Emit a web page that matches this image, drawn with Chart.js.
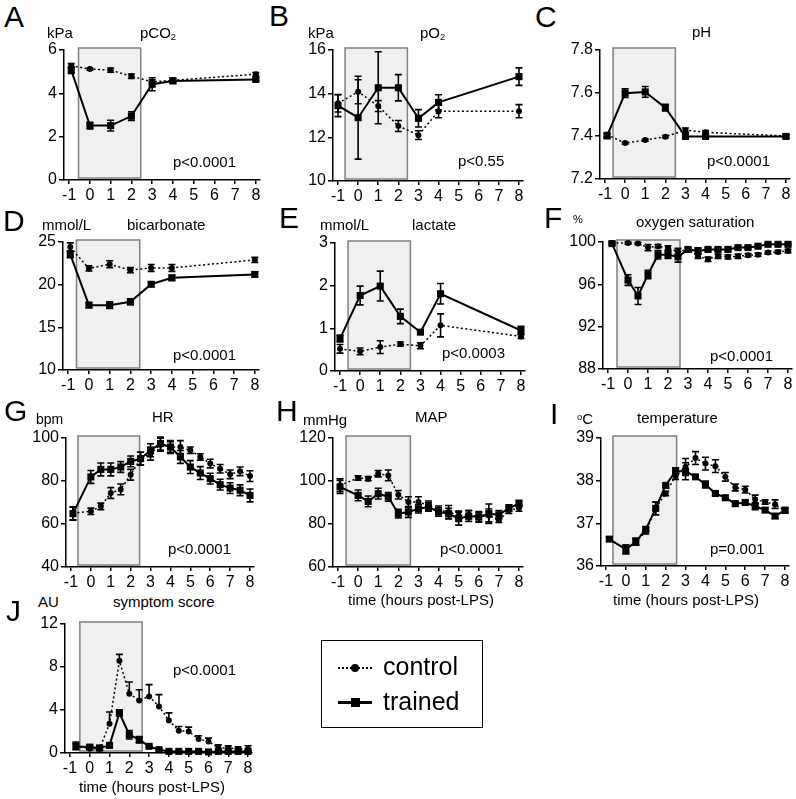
<!DOCTYPE html>
<html>
<head>
<meta charset="utf-8">
<script src="https://cdn.jsdelivr.net/npm/chart.js@4.4.1/dist/chart.umd.min.js"></script>
<style>
  body { margin: 0; background: #fff; width: 796px; height: 799px; position: relative; overflow: hidden;
         font-family: "Liberation Sans", Arial, sans-serif; color: #000; }
  canvas { position: absolute; }
  .t { position: absolute; white-space: nowrap; line-height: 1; }
  .t sub { font-size: 0.62em; vertical-align: -0.25em; line-height: 0; }
  .t sup { font-size: 0.62em; vertical-align: 0.45em; line-height: 0; }
  #legend { position: absolute; left: 321px; top: 640px; width: 162px; height: 88px;
            border: 1.5px solid #000; box-sizing: border-box; }
  .ln { position: absolute; }
</style>
</head>
<body>
<div id="legend"></div>
<script>
// x positions (hours post-LPS)
const gasHoursA = [-0.9, 0, 1, 2, 3, 4, 8];
const gasHoursB = [-1, 0, 1, 2, 3, 4, 8];
const satHours = [-0.8, 0, 0.5, 1, 1.5, 2, 2.5, 3, 3.5, 4, 4.5, 5, 5.5, 6, 6.5, 7, 7.5, 8];
const vitalHours = [-0.9, 0, 0.5, 1, 1.5, 2, 2.5, 3, 3.5, 4, 4.5, 5, 5.5, 6, 6.5, 7, 7.5, 8];
const tempHours = [-0.83, 0, 0.5, 1, 1.5, 2, 2.5, 3, 3.5, 4, 4.5, 5, 5.5, 6, 6.5, 7, 7.5, 8];
const scoreHours = [-0.7, 0, 0.5, 1, 1.5, 2, 2.5, 3, 3.5, 4, 4.5, 5, 5.5, 6, 6.5, 7, 7.5, 8];
const xTicks = [-1, 0, 1, 2, 3, 4, 5, 6, 7, 8];

// A pCO2 (kPa)
const pco2Control = [5.27, 5.12, 5.07, 4.79, 4.53, 4.6, 4.88];
const pco2ControlErr = [0.1, 0.05, 0.1, 0.1, 0.1, 0.1, 0.08];
const pco2Trained = [5.07, 2.51, 2.51, 2.95, 4.42, 4.57, 4.64];
const pco2TrainedErr = [0.15, 0.15, 0.25, 0.2, 0.3, 0.1, 0.08];
const pco2Ticks = [0, 2, 4, 6];

// B pO2 (kPa)
const po2Control = [13.56, 14.09, 13.43, 12.52, 12.1, 13.2, 13.2];
const po2ControlErr = [0.4, 0.55, 0.25, 0.25, 0.2, 0.3, 0.3];
const po2Trained = [13.45, 12.9, 14.27, 14.27, 12.87, 13.6, 14.78];
const po2TrainedErr = [0.5, 1.9, 1.65, 0.6, 0.4, 0.35, 0.4];
const po2Ticks = [10, 12, 14, 16];

// C pH
const phControl = [7.406, 7.367, 7.381, 7.397, 7.427, 7.417, 7.4];
const phControlErr = [0.01, 0.005, 0.005, 0.005, 0.01, 0.008, 0.008];
const phTrained = [7.4, 7.599, 7.605, 7.532, 7.398, 7.398, 7.398];
const phTrainedErr = [0.01, 0.02, 0.025, 0.015, 0.01, 0.008, 0.008];
const phTicks = [7.2, 7.4, 7.6, 7.8];

// D bicarbonate (mmol/L)
const bicControl = [24.4, 21.9, 22.4, 21.7, 21.96, 21.96, 22.9];
const bicControlErr = [0.5, 0.3, 0.4, 0.3, 0.4, 0.4, 0.3];
const bicTrained = [23.56, 17.6, 17.6, 17.99, 20.05, 20.8, 21.2];
const bicTrainedErr = [0.4, 0.3, 0.4, 0.35, 0.3, 0.3, 0.3];
const bicTicks = [10, 15, 20, 25];

// E lactate (mmol/L)
const lacControl = [0.52, 0.46, 0.56, 0.63, 0.59, 1.07, 0.81];
const lacControlErr = [0.1, 0.08, 0.15, 0.05, 0.07, 0.27, 0.05];
const lacTrained = [0.76, 1.77, 1.99, 1.28, 0.91, 1.81, 0.95];
const lacTrainedErr = [0.08, 0.22, 0.35, 0.17, 0.05, 0.24, 0.1];
const lacTicks = [0, 1, 2, 3];

// F oxygen saturation (%)
const satControl = [99.9, 99.9, 99.85, 99.47, 99.6, 99.44, 99.1, 99.3, 98.65, 98.37, 98.65, 98.6, 98.65, 98.75, 98.8, 99.0, 99.06, 99.15];
const satControlErr = [0.1, 0.1, 0.1, 0.3, 0.15, 0.2, 0.3, 0.15, 0.2, 0.2, 0.2, 0.2, 0.2, 0.15, 0.15, 0.15, 0.15, 0.15];
const satTrained = [99.85, 96.4, 94.9, 96.93, 98.8, 98.8, 98.6, 99.3, 99.15, 99.3, 99.3, 99.3, 99.47, 99.47, 99.6, 99.78, 99.78, 99.78];
const satTrainedErr = [0.15, 0.5, 0.8, 0.4, 0.4, 0.35, 0.5, 0.15, 0.3, 0.15, 0.15, 0.2, 0.15, 0.15, 0.15, 0.1, 0.1, 0.1];
const satTicks = [88, 92, 96, 100];

// G heart rate (bpm)
const hrControl = [65, 65.9, 68.2, 74.4, 76.1, 82.9, 90.4, 92.7, 96.9, 95.8, 95.8, 94.3, 91.2, 88.1, 85.7, 83.1, 84.5, 82.3];
const hrControlErr = [3, 1.5, 1.5, 2.5, 2.5, 2.5, 3, 3, 3, 3, 3, 1.5, 1.5, 2, 2, 2, 2, 2.5];
const hrTrained = [64.8, 81.9, 85.4, 85.4, 86.5, 89.1, 90.4, 94.3, 97.4, 95.8, 91.2, 86.5, 83.7, 81.1, 78.3, 76.7, 75.7, 73.3];
const hrTrainedErr = [3, 3, 3, 3, 2.5, 2.5, 3, 3, 3, 2.5, 3, 3, 3, 2.5, 2.5, 2.5, 2.5, 3];
const hrTicks = [40, 60, 80, 100];

// H mean arterial pressure (mmHg)
const mapControl = [98, 101.4, 101.1, 103.4, 102.6, 93.6, 90.2, 90.2, 88.7, 86.4, 85.6, 84, 84.3, 83.3, 84, 81.7, 86.4, 87.4];
const mapControlErr = [3, 1, 1, 1.5, 2.5, 2, 2.5, 2.5, 2, 2, 3, 2, 2, 2, 3, 1, 1.5, 1.5];
const mapTrained = [97.2, 93.3, 90.5, 94.1, 92.6, 84.8, 85.6, 87.1, 87.9, 85.6, 84.8, 82.5, 83.7, 83.3, 84.8, 84.3, 87.4, 89.5];
const mapTrainedErr = [3, 2.5, 2.5, 2.5, 2, 2, 2.5, 2, 2, 2, 2.5, 3, 2.5, 2.5, 4.5, 2, 1.5, 1.5];
const mapTicks = [60, 80, 100, 120];

// I temperature (°C)
const tempControl = [36.63, 36.39, 36.57, 36.8, 37.35, 37.7, 38.11, 38.32, 38.53, 38.4, 38.34, 38.09, 37.84, 37.79, 37.56, 37.5, 37.45, 37.29];
const tempControlErr = [0.05, 0.1, 0.08, 0.05, 0.15, 0.05, 0.08, 0.2, 0.15, 0.15, 0.15, 0.1, 0.08, 0.08, 0.1, 0.05, 0.1, 0.05];
const tempTrained = [36.63, 36.39, 36.57, 36.86, 37.35, 37.89, 38.22, 38.22, 38.09, 37.91, 37.7, 37.6, 37.46, 37.49, 37.4, 37.31, 37.17, 37.31];
const tempTrainedErr = [0.05, 0.1, 0.08, 0.05, 0.15, 0.05, 0.08, 0.2, 0.05, 0.08, 0.05, 0.05, 0.05, 0.05, 0.08, 0.05, 0.05, 0.05];
const tempTicks = [36, 37, 38, 39];

// J symptom score (AU)
const scoreControl = [0.62, 0.4, 0.4, 2.72, 8.57, 5.51, 4.89, 5.26, 4.33, 3.03, 2.07, 2.01, 1.3, 1.08, 0.46, 0.46, 0.37, 0.37];
const scoreControlErr = [0.4, 0.3, 0.3, 1.1, 0.6, 1.1, 1.0, 1.1, 1.1, 0.7, 0.4, 0.4, 0.3, 0.3, 0.3, 0.2, 0.2, 0.3];
const scoreTrained = [0.6, 0.55, 0.46, 0.71, 3.72, 1.7, 1.24, 0.62, 0.31, 0.15, 0.15, 0.15, 0.15, 0.1, 0.15, 0.15, 0.15, 0.15];
const scoreTrainedErr = [0.3, 0.2, 0.2, 0.2, 0.3, 0.4, 0.3, 0.1, 0.1, 0.05, 0.05, 0.05, 0.05, 0.05, 0.05, 0.05, 0.05, 0.05];
const scoreTicks = [0, 4, 8, 12];

const FONT = '"Liberation Sans", Arial, sans-serif';

// gray box marking the exercise period
const shadePlugin = {
  id: 'shade',
  beforeDatasetsDraw(chart, args, opts) {
    const { ctx, chartArea, scales } = chart;
    const x0 = scales.x.getPixelForValue(opts.from);
    const x1 = scales.x.getPixelForValue(opts.to);
    const top = chartArea.top - 2, bot = chartArea.bottom - 2;
    ctx.save();
    ctx.fillStyle = '#f0f0f0';
    ctx.fillRect(x0, top, x1 - x0, bot - top);
    ctx.strokeStyle = '#808080';
    ctx.lineWidth = 1.5;
    ctx.strokeRect(x0, top, x1 - x0, bot - top);
    ctx.restore();
  }
};

// SEM error bars, read from dataset.err
const errorBars = {
  id: 'errorBars',
  afterDatasetsDraw(chart) {
    const ctx = chart.ctx, y = chart.scales.y;
    ctx.save();
    ctx.strokeStyle = '#000';
    ctx.lineWidth = 1.6;
    chart.data.datasets.forEach((ds, di) => {
      const meta = chart.getDatasetMeta(di);
      meta.data.forEach((pt, i) => {
        const v = ds.data[i].y, e = ds.err[i];
        const top = y.getPixelForValue(v + e);
        const bot = ds.upOnly ? pt.y : y.getPixelForValue(v - e);
        ctx.beginPath();
        ctx.moveTo(pt.x, top); ctx.lineTo(pt.x, bot);
        ctx.moveTo(pt.x - 3.5, top); ctx.lineTo(pt.x + 3.5, top);
        if (!ds.upOnly) { ctx.moveTo(pt.x - 3.5, bot); ctx.lineTo(pt.x + 3.5, bot); }
        ctx.stroke();
      });
    });
    ctx.restore();
  }
};

function series(xs, ys) {
  return xs.map((x, i) => ({ x: x, y: ys[i] }));
}

function makePanel(p) {
  const YW = 45, XH = 26, PT = 12, PR = 14;
  const cl = p.box[0] - YW, ct = p.box[1] - PT;
  const cv = document.createElement('canvas');
  cv.width = p.box[2] - cl + PR;
  cv.height = p.box[3] - ct + XH;
  cv.style.left = cl + 'px';
  cv.style.top = ct + 'px';
  document.body.appendChild(cv);

  const axisGrid = { drawOnChartArea: false, drawTicks: true, tickLength: 4, color: '#000', lineWidth: 1.5 };
  new Chart(cv, {
    type: 'line',
    data: {
      datasets: [
        {
          label: 'control', data: series(p.x, p.ctl), err: p.ctlErr, upOnly: !!p.upOnly,
          borderColor: '#000', backgroundColor: '#000', borderWidth: 1.5, borderDash: [2, 2.5],
          pointStyle: 'circle', pointRadius: 3, pointBorderWidth: 0, tension: 0, clip: false
        },
        {
          label: 'trained', data: series(p.x, p.trn), err: p.trnErr,
          borderColor: '#000', backgroundColor: '#000', borderWidth: 2,
          pointStyle: 'rect', pointRadius: 5, pointBorderWidth: 0, tension: 0, clip: false
        }
      ]
    },
    options: {
      responsive: false,
      animation: false,
      devicePixelRatio: 1,
      layout: { padding: { left: 0, top: PT, right: PR, bottom: 0 } },
      plugins: {
        legend: { display: false },
        tooltip: { enabled: false },
        shade: { from: p.shade[0], to: p.shade[1] }
      },
      scales: {
        x: {
          type: 'linear', min: -1.25, max: 8.2,
          afterBuildTicks: s => { s.ticks = xTicks.map(v => ({ value: v })); },
          afterFit: s => { s.height = XH; },
          grid: axisGrid,
          border: { color: '#000', width: 1.5 },
          ticks: { color: '#000', font: { family: FONT, size: 16 }, padding: 2, maxRotation: 0, autoSkip: false,
                   callback: v => String(v) }
        },
        y: {
          type: 'linear', min: p.yTicks[0], max: p.yTicks[p.yTicks.length - 1],
          afterBuildTicks: s => { s.ticks = p.yTicks.map(v => ({ value: v })); },
          afterFit: s => { s.width = YW; },
          grid: Object.assign({}, axisGrid, { tickLength: 5 }),
          border: { color: '#000', width: 1.5 },
          ticks: { color: '#000', font: { family: FONT, size: 16 }, padding: 2, autoSkip: false,
                   callback: v => String(v) }
        }
      }
    },
    plugins: [shadePlugin, errorBars]
  });
}

const panels = [
  { box: [64, 50, 260, 180], x: gasHoursA, ctl: pco2Control, ctlErr: pco2ControlErr, trn: pco2Trained, trnErr: pco2TrainedErr, yTicks: pco2Ticks, shade: [-0.55, 2.45] },
  { box: [333, 50, 523, 181], x: gasHoursB, ctl: po2Control, ctlErr: po2ControlErr, trn: po2Trained, trnErr: po2TrainedErr, yTicks: po2Ticks, shade: [-0.65, 2.45] },
  { box: [600, 50, 790, 179], x: gasHoursA, ctl: phControl, ctlErr: phControlErr, trn: phTrained, trnErr: phTrainedErr, yTicks: phTicks, shade: [-0.6, 2.5] },
  { box: [63, 242, 259, 370], x: gasHoursA, ctl: bicControl, ctlErr: bicControlErr, trn: bicTrained, trnErr: bicTrainedErr, yTicks: bicTicks, shade: [-0.6, 2.45] },
  { box: [335, 243, 525, 371], x: gasHoursB, ctl: lacControl, ctlErr: lacControlErr, trn: lacTrained, trnErr: lacTrainedErr, yTicks: lacTicks, shade: [-0.6, 2.5] },
  { box: [603, 242, 792, 369], x: satHours, ctl: satControl, ctlErr: satControlErr, trn: satTrained, trnErr: satTrainedErr, yTicks: satTicks, shade: [-0.55, 2.6] },
  { box: [66, 438, 254, 567], x: vitalHours, ctl: hrControl, ctlErr: hrControlErr, trn: hrTrained, trnErr: hrTrainedErr, yTicks: hrTicks, shade: [-0.65, 2.45] },
  { box: [333, 438, 523, 567], x: vitalHours, ctl: mapControl, ctlErr: mapControlErr, trn: mapTrained, trnErr: mapTrainedErr, yTicks: mapTicks, shade: [-0.6, 2.6] },
  { box: [601, 438, 789, 566], x: tempHours, ctl: tempControl, ctlErr: tempControlErr, trn: tempTrained, trnErr: tempTrainedErr, yTicks: tempTicks, shade: [-0.65, 2.55] },
  { box: [65, 624, 252, 753], x: scoreHours, ctl: scoreControl, ctlErr: scoreControlErr, trn: scoreTrained, trnErr: scoreTrainedErr, yTicks: scoreTicks, shade: [-0.5, 2.65], upOnly: true }
];
panels.forEach(makePanel);

// text: [html, x, baseline, size, align]
const texts = [
  ['A', 4, 27, 30], ['B', 269, 26, 30], ['C', 535, 27, 30],
  ['D', 3, 231, 30], ['E', 279, 228, 30], ['F', 544, 228, 30],
  ['G', 4, 421, 30], ['H', 276, 421, 30], ['I', 550, 424, 30], ['J', 6, 621, 30],
  ['kPa', 47, 38, 15], ['pCO<sub>2</sub>', 140, 38, 15],
  ['kPa', 308, 38, 15], ['pO<sub>2</sub>', 420, 38, 15],
  ['pH', 692, 37, 15],
  ['mmol/L', 42, 230, 15], ['bicarbonate', 127, 230, 15],
  ['mmol/L', 320, 230, 15], ['lactate', 412, 230, 15],
  ['%', 573, 223, 11], ['oxygen saturation', 636, 227, 15],
  ['bpm', 36, 424, 14], ['HR', 152, 422, 15],
  ['mmHg', 303, 425, 15], ['MAP', 415, 422, 15],
  ['<sup>o</sup>C', 577, 424, 15], ['temperature', 637, 423, 15],
  ['AU', 38, 607, 15], ['symptom score', 113, 607, 15],
  ['p&lt;0.0001', 173, 167, 15], ['p&lt;0.55', 458, 166, 15], ['p&lt;0.0001', 707, 166, 15],
  ['p&lt;0.0001', 173, 360, 15], ['p&lt;0.0003', 442, 358, 15], ['p&lt;0.0001', 710, 361, 15],
  ['p&lt;0.0001', 168, 554, 15], ['p&lt;0.0001', 440, 554, 15], ['p=0.001', 710, 554, 15],
  ['p&lt;0.0001', 173, 675, 15],
  ['time (hours post-LPS)', 421, 605, 15, 'c'], ['time (hours post-LPS)', 686, 605, 15, 'c'],
  ['time (hours post-LPS)', 152, 792, 15, 'c'],
  ['control', 383, 675, 25], ['trained', 383, 710, 25]
];
texts.forEach(([h, x, b, s, a]) => {
  const d = document.createElement('div');
  d.className = 't';
  d.innerHTML = h;
  d.style.fontSize = s + 'px';
  d.style.left = x + 'px';
  d.style.top = (b - 0.8465 * s) + 'px';
  if (a === 'c') d.style.transform = 'translateX(-50%)';
  document.body.appendChild(d);
});

// legend line samples
function addEl(css) {
  const d = document.createElement('div');
  d.className = 'ln';
  d.style.cssText += css;
  document.body.appendChild(d);
}
addEl('left:338px;top:667px;width:34px;height:0;border-top:2px dotted #000;');
addEl('left:351px;top:664px;width:8px;height:8px;border-radius:50%;background:#000;');
addEl('left:338px;top:701px;width:34px;height:2.5px;background:#000;');
addEl('left:351px;top:698px;width:9px;height:9px;background:#000;');
</script>
</body>
</html>
